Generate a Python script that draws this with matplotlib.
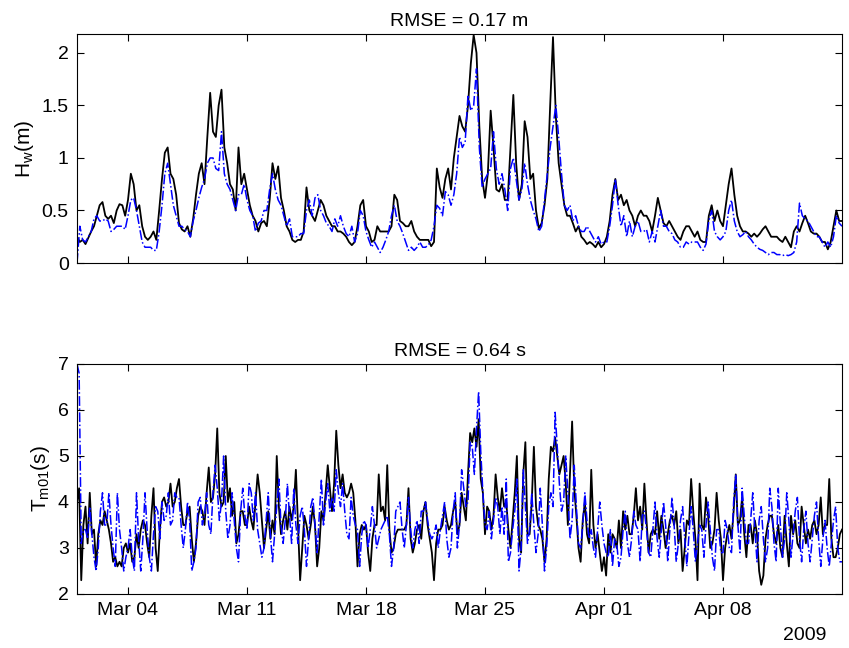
import numpy as np
import pandas as pd
import matplotlib
matplotlib.use("Agg")
import matplotlib.pyplot as plt
import matplotlib.dates as mdates
from datetime import datetime

# ---------------- data ----------------
# Significant wave height H_w (m), every 4 hours from 2009-03-01 00:00
hw_obs = [
    0.25, 0.2, 0.22, 0.18, 0.24, 0.3,
    0.35, 0.45, 0.55, 0.58, 0.45, 0.42,
    0.45, 0.38, 0.5, 0.56, 0.55, 0.45,
    0.6, 0.85, 0.75, 0.5, 0.55, 0.35,
    0.25, 0.22, 0.25, 0.3, 0.22, 0.5,
    0.8, 1.05, 1.1, 0.85, 0.8, 0.65,
    0.38, 0.32, 0.3, 0.35, 0.25, 0.42,
    0.65, 0.85, 0.95, 0.75, 1.2, 1.62,
    1.25, 1.2, 1.5, 1.65, 1.1, 0.95,
    0.75, 0.7, 0.5, 1.1, 0.75, 0.85,
    0.7, 0.55, 0.45, 0.4, 0.3, 0.38,
    0.4, 0.35, 0.6, 0.95, 0.8, 0.92,
    0.62, 0.5, 0.35, 0.3, 0.22, 0.2,
    0.22, 0.22, 0.3, 0.72, 0.5, 0.45,
    0.4, 0.5, 0.6, 0.55, 0.45, 0.4,
    0.35, 0.35, 0.3, 0.3, 0.28, 0.25,
    0.2, 0.17, 0.2, 0.35, 0.55, 0.6,
    0.35, 0.3, 0.2, 0.22, 0.35, 0.3,
    0.3, 0.3, 0.3, 0.35, 0.65, 0.6,
    0.4, 0.38, 0.35, 0.35, 0.4, 0.3,
    0.25, 0.22, 0.22, 0.22, 0.22, 0.16,
    0.2, 0.9, 0.72, 0.62, 0.8, 0.9,
    0.7, 1.0, 1.2, 1.4, 1.3, 1.25,
    1.5, 1.9, 2.17, 2.0, 1.3, 0.8,
    0.62, 0.85, 1.45, 1.1, 0.7, 0.68,
    0.75, 0.6, 0.6, 1.1, 1.6, 0.95,
    0.6, 0.75, 1.35, 1.2, 0.8, 0.85,
    0.5, 0.33, 0.38, 0.55, 0.8, 1.5,
    2.15, 1.4, 0.95, 0.75, 0.55, 0.45,
    0.45, 0.38, 0.3, 0.35, 0.25, 0.22,
    0.18, 0.2, 0.18, 0.15, 0.2, 0.15,
    0.18, 0.25, 0.4, 0.65, 0.8, 0.6,
    0.65, 0.55, 0.6, 0.5, 0.45, 0.35,
    0.45, 0.5, 0.45, 0.45, 0.4, 0.3,
    0.45, 0.62, 0.5, 0.38, 0.35, 0.4,
    0.35, 0.3, 0.25, 0.22, 0.3, 0.35,
    0.35, 0.3, 0.25, 0.3, 0.22, 0.2,
    0.2, 0.45, 0.55, 0.4, 0.5, 0.4,
    0.35, 0.55, 0.75, 0.9, 0.65, 0.45,
    0.35, 0.3, 0.3, 0.28, 0.25, 0.28,
    0.25, 0.28, 0.32, 0.35, 0.3, 0.25,
    0.25, 0.25, 0.22, 0.2, 0.25, 0.2,
    0.15, 0.3, 0.35, 0.3, 0.38, 0.45,
    0.38, 0.3, 0.28, 0.28, 0.25, 0.2,
    0.2, 0.13, 0.2, 0.35, 0.5, 0.4,
    0.4,
]
hw_mod = [
    0.0, 0.35, 0.22, 0.2, 0.25, 0.3,
    0.42, 0.45, 0.4, 0.4, 0.42, 0.4,
    0.3, 0.32, 0.35, 0.35, 0.35, 0.32,
    0.45, 0.6, 0.62, 0.5, 0.35, 0.2,
    0.15, 0.15, 0.15, 0.12, 0.12, 0.3,
    0.55, 0.85, 0.95, 0.75, 0.55, 0.45,
    0.35, 0.35, 0.32, 0.3, 0.25, 0.4,
    0.5, 0.62, 0.72, 0.8, 0.95, 1.0,
    1.0, 0.9, 0.88, 1.25, 0.85, 0.75,
    0.7, 0.6, 0.5, 0.65, 0.65, 0.75,
    0.6, 0.5, 0.45, 0.3, 0.38, 0.4,
    0.5, 0.5, 0.7, 0.85, 0.7, 0.6,
    0.55, 0.45, 0.35, 0.42, 0.25, 0.25,
    0.25, 0.28, 0.28, 0.5, 0.6, 0.45,
    0.62, 0.65, 0.5, 0.45, 0.38, 0.35,
    0.3, 0.42, 0.35, 0.45, 0.35, 0.28,
    0.25, 0.35, 0.2, 0.28, 0.5, 0.45,
    0.3, 0.22, 0.15, 0.2, 0.15, 0.1,
    0.15, 0.22, 0.3, 0.45, 0.55, 0.4,
    0.35, 0.28, 0.2, 0.12, 0.15, 0.12,
    0.15, 0.2, 0.15, 0.15, 0.17, 0.22,
    0.35, 0.55, 0.52, 0.45, 0.68, 0.65,
    0.55, 0.65, 0.85, 1.2, 1.1, 1.15,
    1.6, 1.45, 1.5, 1.85, 1.1, 0.72,
    0.8, 0.85, 0.9, 1.25, 0.9, 0.75,
    0.85, 0.7, 0.5, 0.9, 1.0, 0.8,
    0.6, 0.7, 0.95, 0.75, 0.6, 0.5,
    0.42, 0.3, 0.35, 0.6, 0.85, 1.1,
    1.3, 1.5, 1.2, 0.85, 0.55, 0.5,
    0.55, 0.4, 0.45, 0.35, 0.3, 0.3,
    0.35, 0.3, 0.25, 0.2, 0.25, 0.18,
    0.2, 0.2, 0.35, 0.55, 0.8, 0.55,
    0.35, 0.45, 0.25, 0.4, 0.25, 0.35,
    0.4, 0.3, 0.3, 0.32, 0.2, 0.3,
    0.2, 0.35, 0.5, 0.35, 0.35, 0.3,
    0.28, 0.22, 0.2, 0.15, 0.15, 0.2,
    0.18, 0.2, 0.2, 0.2, 0.15, 0.12,
    0.18, 0.4, 0.5, 0.3, 0.25, 0.22,
    0.25, 0.3, 0.5, 0.6, 0.4, 0.3,
    0.25, 0.27, 0.3, 0.25, 0.22, 0.18,
    0.15, 0.13, 0.12, 0.1, 0.08, 0.1,
    0.1, 0.08, 0.08, 0.07, 0.08, 0.07,
    0.08, 0.1, 0.2, 0.57, 0.45, 0.42,
    0.4, 0.35, 0.3, 0.25, 0.25, 0.2,
    0.15, 0.2, 0.15, 0.25, 0.45, 0.38,
    0.35,
]

# Mean wave period T_m01 (s), every 3 hours from 2009-03-01 00:00
tm_obs = [
    4.0, 4.3, 2.3, 3.5, 3.9, 3.1, 4.2, 3.3,
    3.4, 2.6, 3.3, 3.6, 3.5, 3.8, 3.6, 3.4,
    3.1, 2.7, 2.8, 2.6, 2.7, 2.6, 3.0, 3.1,
    2.9, 3.1, 2.7, 2.8, 3.3, 3.0, 3.4, 3.6,
    3.5, 3.1, 2.8, 3.7, 4.3, 3.0, 2.5, 3.4,
    4.0, 4.1, 3.9, 4.0, 4.4, 3.9, 4.0, 4.3,
    4.5, 3.9, 3.5, 3.5, 3.8, 3.9, 3.2, 2.7,
    3.1, 3.7, 3.9, 3.8, 3.5, 4.2, 4.75, 4.0,
    4.1, 4.6, 5.6, 4.2, 3.9, 4.0, 5.0, 4.0,
    4.3, 3.7, 4.0, 3.1, 3.3, 3.8, 3.8, 3.5,
    3.5, 3.9, 3.6, 3.4, 4.0, 4.6, 4.2, 3.6,
    3.0, 3.4, 3.8, 3.2, 3.6, 3.3, 5.0, 3.9,
    3.3, 3.6, 3.8, 3.4, 3.9, 3.6, 3.9, 4.7,
    3.5, 2.3, 3.0, 3.7, 3.5, 3.2, 3.5, 3.9,
    3.5, 2.6, 3.0, 3.8, 3.6, 4.2, 4.8, 4.3,
    3.8, 4.4, 5.55, 4.8, 4.3, 4.6, 4.2, 4.1,
    4.2, 4.4, 4.2, 3.6, 2.6, 3.3, 3.5, 3.4,
    3.5, 2.9, 2.5, 3.2, 3.5, 3.5, 4.6, 3.8,
    3.9, 3.6, 4.8, 3.4, 2.9, 3.0, 3.3, 3.4,
    3.4, 3.4, 3.4, 3.5, 4.3, 3.2, 2.9, 3.1,
    3.4, 3.5, 3.2, 3.8, 4.0, 3.5, 3.2, 2.9,
    2.3, 3.1, 3.4, 3.4, 3.5, 3.9, 3.6, 3.4,
    3.5, 3.8, 4.0, 3.3, 3.5, 4.2, 3.9, 3.6,
    4.6, 5.5, 5.3, 5.6, 5.2, 5.8, 4.5, 4.2,
    3.3, 3.9, 3.8, 3.4, 3.7, 4.6, 4.1, 3.8,
    4.3, 3.9, 4.0, 3.4, 3.0, 3.6, 4.2, 5.0,
    3.2, 2.9, 4.6, 5.3, 3.3, 3.3, 4.0, 5.2,
    3.9, 3.5, 3.4, 3.2, 2.7, 3.2, 4.5, 5.2,
    5.1, 5.4, 5.0, 4.6, 4.8, 5.0, 4.4, 3.5,
    4.6, 5.75, 4.3, 3.7, 3.0, 2.7, 3.6, 4.0,
    3.3, 3.1, 4.7, 3.5, 3.0, 3.3, 2.9, 2.5,
    2.8, 2.4, 3.3, 2.9, 3.3, 3.2, 3.0, 3.6,
    3.0, 3.8, 3.4, 3.7, 3.3, 3.3, 3.7, 4.3,
    3.6, 3.9, 3.4, 4.4, 3.6, 2.9, 3.3, 3.4,
    3.3, 3.8, 3.2, 3.7, 3.4, 3.0, 3.3, 3.6,
    3.7, 3.5, 3.8, 3.1, 3.4, 2.5, 3.0, 3.6,
    3.5, 4.5, 3.8, 3.2, 2.3, 4.4, 3.5, 3.4,
    4.1, 3.7, 3.0, 3.1, 3.4, 4.2, 3.6, 3.2,
    2.3, 3.0, 3.3, 3.5, 3.2, 3.8, 4.6, 3.5,
    3.6, 4.1, 3.3, 2.8, 3.5, 3.5, 3.1, 3.6,
    3.3, 2.5, 2.2, 2.4, 3.2, 3.5, 3.7, 3.7,
    3.3, 3.1, 3.5, 3.0, 2.8, 3.7, 3.1, 2.6,
    3.7, 3.3, 3.6, 3.1, 3.0, 3.9, 3.5, 3.1,
    3.4, 3.2, 3.5, 3.6, 3.3, 3.5, 4.1, 3.3,
    3.5, 3.5, 4.5, 3.2, 2.8, 2.8, 3.0, 3.3,
    3.4,
]
tm_mod = [
    7.0, 6.8, 3.1, 3.4, 3.4, 3.2, 3.9, 3.3,
    2.8, 2.5, 3.0, 3.8, 4.2, 3.5, 3.5, 4.2,
    3.5, 3.0, 2.6, 4.2, 3.4, 3.0, 2.5, 2.8,
    3.0, 3.4, 2.8, 2.5, 4.2, 3.2, 2.5, 3.2,
    4.2, 3.4, 2.8, 2.5, 3.3, 3.9, 3.8, 3.2,
    4.0, 3.6, 3.7, 4.2, 3.5, 3.6, 4.2, 4.1,
    4.1, 3.5, 3.0, 3.4, 4.0, 3.6, 2.5, 2.7,
    3.0, 4.0, 4.1, 3.5, 3.7, 4.2, 3.5, 3.3,
    4.2, 4.8, 4.3, 3.6, 4.0, 5.0, 3.8, 3.2,
    3.5, 4.2, 3.6, 3.0, 2.7, 3.8, 4.3, 3.7,
    3.4, 4.4, 4.2, 3.6, 4.2, 3.4, 3.1, 2.8,
    3.0, 3.6, 4.2, 3.3, 2.7, 3.3, 3.9, 4.5,
    3.5, 3.1, 3.6, 4.4, 3.7, 3.1, 4.3, 3.5,
    3.1, 3.7, 3.9, 3.4, 2.6, 3.2, 3.9, 4.1,
    3.5, 2.9, 3.7, 4.5, 3.5, 4.0, 4.4, 3.8,
    4.1, 3.8, 4.7, 4.2, 3.9, 4.4, 3.8, 3.3,
    3.2, 4.1, 3.7, 3.5, 3.4, 2.6, 3.3, 3.6,
    3.5, 3.0, 3.4, 3.9, 3.5, 3.0, 3.2, 3.4,
    3.5, 3.6, 3.7, 3.3, 2.6, 3.0, 3.8, 3.9,
    4.0, 3.4, 3.0, 3.5, 4.1, 3.4, 3.0, 3.4,
    3.6, 3.1, 3.8, 3.8, 4.0, 3.6, 3.3, 3.2,
    3.3, 3.5, 3.0, 3.4, 3.7, 4.0, 3.2, 2.8,
    3.0, 3.8, 4.2, 3.0, 3.5, 4.7, 4.3, 3.9,
    4.0, 5.3, 5.2, 4.6, 5.6, 6.4, 5.1, 4.2,
    3.5, 3.4, 3.8, 3.2, 3.6, 4.1, 3.9, 3.3,
    3.9, 3.3, 4.5, 2.7, 2.9, 3.4, 3.8, 4.5,
    2.5, 3.0, 4.7, 3.9, 3.1, 3.4, 4.2, 3.5,
    2.9, 3.3, 4.3, 3.5, 2.5, 3.0, 3.9, 4.2,
    3.9, 5.95, 5.2, 4.4, 3.8, 4.0, 5.0, 4.2,
    3.2, 3.6, 4.8, 3.9, 3.1, 3.0, 3.5, 4.2,
    3.6, 3.2, 3.4, 3.0, 2.8, 3.4, 4.0, 3.5,
    3.1, 2.9, 2.8, 3.4, 2.6, 3.2, 3.1, 2.6,
    2.8, 3.4, 3.8, 3.1, 2.8, 3.2, 3.8, 3.5,
    3.4, 2.7, 3.7, 3.8, 3.4, 2.9, 2.8, 3.4,
    4.0, 3.2, 2.8, 3.4, 4.0, 3.5, 2.7, 3.4,
    4.1, 3.5, 2.7, 3.1, 3.6, 3.9, 3.2, 2.6,
    3.3, 3.9, 3.4, 2.7, 3.1, 3.5, 3.4, 2.8,
    3.5, 4.0, 3.4, 2.8, 2.5, 3.4, 3.4, 2.9,
    2.9, 3.6, 3.4, 3.0, 2.9, 4.0, 4.6, 3.5,
    2.9, 4.3, 3.7, 3.1, 3.1, 3.6, 4.2, 3.4,
    2.7, 3.6, 3.9, 3.2, 2.7, 3.0, 4.3, 3.9,
    3.1, 2.7, 4.3, 3.5, 2.8, 3.2, 4.2, 3.6,
    2.8, 3.3, 3.8, 4.1, 3.2, 2.7, 3.4, 3.8,
    3.1, 2.7, 3.2, 3.7, 4.0, 3.2, 2.6, 3.2,
    3.6, 3.0, 2.6, 3.1, 3.6, 3.9, 3.0, 2.7,
    2.7,
]

titles = ["RMSE = 0.17 m", "RMSE = 0.64 s"]
ylabels = [r"H$_\mathrm{w}$(m)", r"T$_\mathrm{m01}$(s)"]
hw_yticks = [0, 0.5, 1, 1.5, 2]
tm_yticks = [2, 3, 4, 5, 6, 7]
tick_dates = ["2009-03-04", "2009-03-11", "2009-03-18", "2009-03-25", "2009-04-01", "2009-04-08"]
year_label = "2009"

# ---------------- plotting ----------------
plt.rcParams["font.family"] = ["Liberation Sans", "DejaVu Sans"]
plt.rcParams["mathtext.fontset"] = "custom"
plt.rcParams["mathtext.rm"] = "Liberation Sans"
plt.rcParams["mathtext.it"] = "Liberation Sans:italic"

W, H = 849, 648
fig = plt.figure(figsize=(W / 100, H / 100), dpi=100)
ax1 = fig.add_axes([77 / W, 1 - 263 / H, 765 / W, 229 / H])
ax2 = fig.add_axes([77 / W, 1 - 594 / H, 765 / W, 230 / H])

t_hw = pd.date_range("2009-03-01", periods=len(hw_obs), freq="4h")
t_tm = pd.date_range("2009-03-01", periods=len(tm_obs), freq="3h")

ax1.plot(t_hw, hw_obs, color="black", lw=1.3)
ax1.plot(t_hw, hw_mod, color="blue", lw=1.1, ls="-.")
ax2.plot(t_tm, tm_obs, color="black", lw=1.3)
ax2.plot(t_tm, tm_mod, color="blue", lw=1.1, ls="-.")

xt = pd.to_datetime(tick_dates)
for ax, title, ylab in zip([ax1, ax2], titles, ylabels):
    ax.set_xlim(datetime(2009, 3, 1), datetime(2009, 4, 15))
    ax.set_xticks(xt)
    ax.xaxis.set_major_formatter(mdates.DateFormatter("%b %d"))
    ax.tick_params(direction="in", top=True, right=True, length=5,
                   width=0.8, labelsize=14, pad=6)
    ax.set_title(title, fontsize=14, pad=6)
    ax.set_ylabel(ylab, fontsize=15, labelpad=4)
    for s in ax.spines.values():
        s.set_linewidth(0.8)

ax1.set_ylim(0, 2.18)
ax1.set_yticks(hw_yticks)
ax1.set_yticklabels(["0", "0.5", "1", "1.5", "2"])
ax1.tick_params(labelbottom=False)

ax2.set_ylim(2, 7)
ax2.set_yticks(tm_yticks)

fig.text(805 / W, 1 - 636 / H, year_label, ha="center", va="center", fontsize=14)

fig.savefig("out.png", dpi=100)
